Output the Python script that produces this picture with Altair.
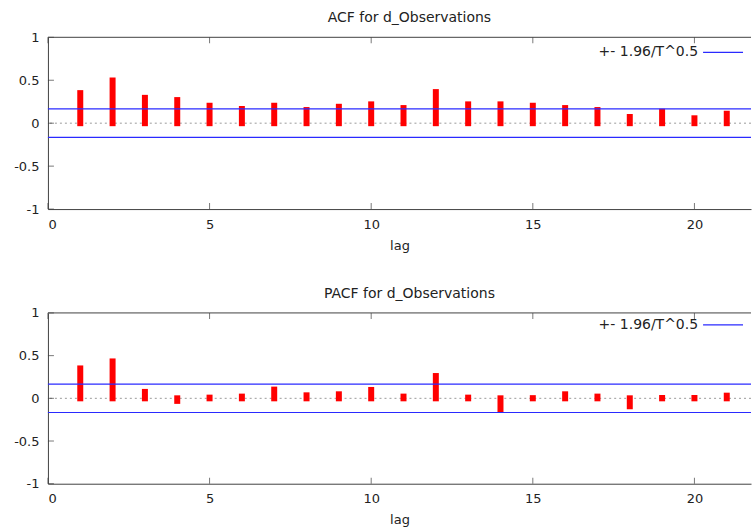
import altair as alt
import pandas as pd

# ---- data ----
lags = list(range(1, 22))
acf_values = [0.350, 0.497, 0.295, 0.269, 0.203, 0.165, 0.203, 0.153, 0.191, 0.219, 0.176,
              0.362, 0.219, 0.219, 0.203, 0.176, 0.153, 0.072, 0.133, 0.057, 0.110]
pacf_values = [0.350, 0.432, 0.075, -0.030, 0.008, 0.020, 0.102, 0.035, 0.047, 0.098, 0.020,
               0.261, 0.008, -0.128, 0.002, 0.047, 0.020, -0.093, 0.004, 0.004, 0.031]
bound = 0.166
x_ticks = [0, 5, 10, 15, 20]
y_ticks = [-1, -0.5, 0, 0.5, 1]
panel_titles = ["ACF for d_Observations", "PACF for d_Observations"]
legend_label = "+- 1.96/T^0.5"
x_title = "lag"

FONT = "DejaVu Sans"
TXT = "#222222"
BORDER = "#404040"
BLUE = "#2a2aff"

xscale = alt.Scale(domain=[0, 21.75], nice=False, zero=False)
yscale = alt.Scale(domain=[-1, 1], nice=False, zero=False)
xaxis = alt.Axis(values=x_ticks, title=x_title, ticks=False, tickSize=0, labelPadding=9,
                 titlePadding=8, grid=False, domainColor=BORDER)
yaxis = alt.Axis(values=y_ticks, title=None, ticks=False, tickSize=0, labelPadding=9,
                 grid=False, domainColor=BORDER, labelExpr="'' + datum.value",
                 minExtent=48, maxExtent=48)
X = alt.X("lag:Q", scale=xscale, axis=xaxis)
Y = alt.Y("value:Q", scale=yscale, axis=yaxis)


def panel(values, title, legend_y, height):
    df = pd.DataFrame({"lag": lags, "value": values})
    zero = alt.Chart(pd.DataFrame({"value": [0]})).mark_rule(
        color="#9a9a9a", strokeDash=[2, 3], strokeWidth=1).encode(y=Y)
    bars = alt.Chart(df).transform_calculate(base="0").mark_rule(
        color="#ff0000", strokeWidth=6, strokeCap="square").encode(x=X, y=Y, y2="base:Q")
    bounds = alt.Chart(pd.DataFrame({"value": [bound, -bound]})).mark_rule(
        color=BLUE, strokeWidth=1.2).encode(y=Y)
    top = alt.Chart(pd.DataFrame({"value": [1]})).mark_rule(
        color=BORDER, strokeWidth=1).encode(y=Y)
    bticks = alt.Chart(pd.DataFrame({"lag": x_ticks, "value": [-1] * len(x_ticks)})).mark_tick(
        orient="vertical", size=6, thickness=1, yOffset=-3, color=BORDER).encode(x=X, y=Y)
    tticks = alt.Chart(pd.DataFrame({"lag": x_ticks, "value": [1] * len(x_ticks)})).mark_tick(
        orient="vertical", size=6, thickness=1, yOffset=3, color=BORDER).encode(x=X, y=Y)
    lticks = alt.Chart(pd.DataFrame({"lag": [0] * len(y_ticks), "value": y_ticks})).mark_tick(
        orient="horizontal", size=6, thickness=1, xOffset=3, color=BORDER).encode(x=X, y=Y)
    leg_text = alt.Chart(pd.DataFrame({"t": [legend_label]})).mark_text(
        align="right", baseline="middle", font=FONT, fontSize=14, color=TXT).encode(
        text="t:N", x=alt.value(651), y=alt.value(legend_y))
    leg_line = alt.Chart(pd.DataFrame({"t": [legend_label]})).mark_rule(
        color=BLUE, strokeWidth=1.2).encode(
        x=alt.value(656), x2=alt.value(696), y=alt.value(legend_y))
    return alt.layer(zero, bars, bounds, top, bticks, tticks, lticks, leg_text, leg_line).properties(
        width=704, height=height,
        title=alt.TitleParams(text=title, font=FONT, fontSize=14, fontWeight="normal",
                              color=TXT, dx=10, offset=6, anchor="middle"))


chart = alt.vconcat(
    panel(acf_values, panel_titles[0], 15, 172),
    panel(pacf_values, panel_titles[1], 12, 171),
    spacing=35,
).properties(
    padding={"left": 0, "right": 0, "top": 11, "bottom": 0},
    background="white",
).configure_view(stroke=None).configure_axis(
    labelFont=FONT, labelFontSize=13, labelColor=TXT,
    titleFont=FONT, titleFontSize=13, titleFontWeight="normal", titleColor=TXT,
)

chart.save("out.html", embed_options={"renderer": "svg", "actions": False})
